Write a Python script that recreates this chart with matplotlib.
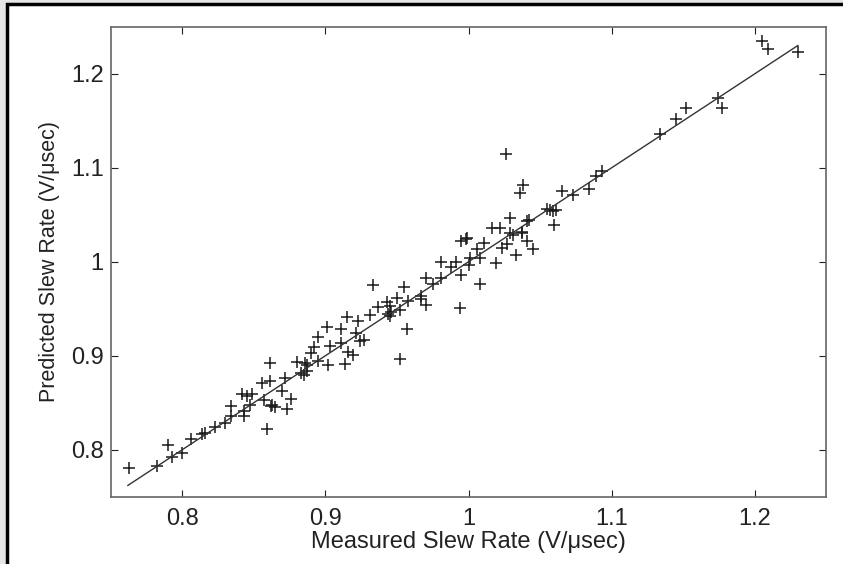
import matplotlib
matplotlib.use("Agg")
import matplotlib.pyplot as plt
from matplotlib.patches import Rectangle

measured = [0.763, 0.782, 0.793, 0.790, 0.800, 0.806, 0.814, 0.816, 0.823, 0.830,
            0.834, 0.834, 0.843, 0.842, 0.849, 0.845, 0.856, 0.861, 0.861, 0.859,
            0.857, 0.862, 0.865, 0.870, 0.876, 0.873, 0.872, 0.880, 0.883, 0.887,
            0.885, 0.890, 0.886, 0.887, 0.895, 0.902, 0.895, 0.901, 0.892, 0.903,
            0.911, 0.914, 0.916, 0.919, 0.911, 0.915, 0.921, 0.923, 0.927, 0.924,
            0.933, 0.931, 0.937, 0.943, 0.944, 0.945, 0.946, 0.950, 0.955, 0.952,
            0.957, 0.952, 0.958, 0.967, 0.970, 0.970, 0.975, 0.967, 0.945, 0.981,
            0.994, 0.995, 0.988, 0.981, 0.991, 1.000, 1.001, 1.008, 1.008, 1.019,
            1.006, 1.011, 0.995, 0.999, 0.998, 1.016, 1.023, 1.027, 1.022, 1.029,
            1.033, 1.031, 1.037, 1.041, 1.041, 1.045, 1.038, 1.036, 1.026, 1.029,
            1.037, 1.042, 1.057, 1.059, 1.061, 1.055, 1.060, 1.065, 1.073, 1.084,
            1.089, 1.093, 1.134, 1.145, 1.152, 1.174, 1.177, 1.205, 1.209, 1.230,
            0.847, 0.863, 0.843]
predicted = [0.781, 0.783, 0.792, 0.805, 0.797, 0.811, 0.817, 0.818, 0.824, 0.828,
             0.836, 0.847, 0.836, 0.859, 0.859, 0.857, 0.871, 0.873, 0.892, 0.822,
             0.853, 0.846, 0.845, 0.862, 0.854, 0.843, 0.876, 0.893, 0.882, 0.884,
             0.880, 0.903, 0.892, 0.890, 0.894, 0.890, 0.920, 0.931, 0.909, 0.910,
             0.914, 0.891, 0.904, 0.901, 0.928, 0.941, 0.924, 0.937, 0.917, 0.916,
             0.975, 0.943, 0.952, 0.957, 0.944, 0.942, 0.946, 0.961, 0.973, 0.949,
             0.928, 0.896, 0.958, 0.964, 0.954, 0.983, 0.976, 0.960, 0.953, 0.983,
             0.951, 0.986, 0.994, 1.000, 1.000, 0.996, 1.004, 1.004, 0.976, 0.999,
             1.013, 1.020, 1.022, 1.025, 1.024, 1.036, 1.015, 1.019, 1.036, 1.047,
             1.007, 1.028, 1.032, 1.043, 1.022, 1.014, 1.082, 1.073, 1.115, 1.031,
             1.031, 1.044, 1.055, 1.054, 1.055, 1.056, 1.039, 1.075, 1.071, 1.077,
             1.091, 1.097, 1.136, 1.152, 1.164, 1.174, 1.164, 1.235, 1.226, 1.223,
             0.848, 0.848, 0.841]

fit_x = [0.762, 1.230]
fit_y = [0.762, 1.230]

xticks = [0.8, 0.9, 1.0, 1.1, 1.2]
xticklabels = ["0.8", "0.9", "1", "1.1", "1.2"]
yticks = [0.8, 0.9, 1.0, 1.1, 1.2]
yticklabels = ["0.8", "0.9", "1", "1.1", "1.2"]

plt.rcParams['font.family'] = ['Liberation Sans', 'DejaVu Sans']

fig = plt.figure(figsize=(8.43, 5.64), dpi=100, facecolor='#e6e6e6')
# page frame: only the left and top edges fall inside the figure
frame = Rectangle((7 / 843, -20 / 564), 860 / 843, 580 / 564,
                  transform=fig.transFigure, facecolor='white',
                  edgecolor='black', linewidth=2.5, zorder=-10)
fig.patches.append(frame)

ax = fig.add_axes([110.7 / 843, 1 - 496.7 / 564, (826.5 - 110.7) / 843, (496.7 - 26.7) / 564])
ax.set_zorder(5)
ax.set_facecolor('white')
ax.plot(measured, predicted, linestyle='none', marker='+', markersize=8.5,
        markeredgewidth=1.1, color='#1a1a1a')
ax.plot(fit_x, fit_y, color='#333333', linewidth=1.0)

ax.set_xlim(0.75, 1.25)
ax.set_ylim(0.75, 1.25)
ax.set_xticks(xticks)
ax.set_xticklabels(xticklabels)
ax.set_yticks(yticks)
ax.set_yticklabels(yticklabels)
ax.tick_params(direction='in', length=5, width=0.8, top=True, right=True,
               labelsize=17, colors='#222222')
ax.tick_params(axis='x', pad=8)
ax.tick_params(axis='y', pad=5)
for s in ax.spines.values():
    s.set_color('#666666')
    s.set_linewidth(1.2)

ax.set_xlabel('Measured Slew Rate (V/\u03bcsec)', fontsize=17, labelpad=1, color='#222222')
ax.set_ylabel('Predicted Slew Rate (V/\u03bcsec)', fontsize=15.5, labelpad=8, color='#222222')

fig.savefig('out.png', dpi=100, facecolor=fig.get_facecolor())
